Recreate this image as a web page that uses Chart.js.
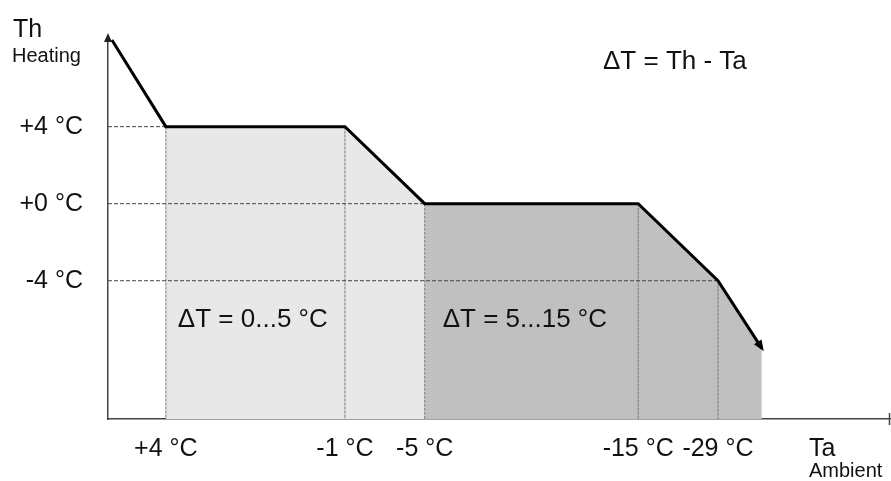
<!DOCTYPE html>
<html>
<head>
<meta charset="utf-8">
<script src="https://cdn.jsdelivr.net/npm/chart.js@4.4.1/dist/chart.umd.min.js"></script>
<style>
  html, body { margin: 0; padding: 0; background: #fff; }
  #wrap { width: 891px; height: 481px; }
</style>
</head>
<body>
<div id="wrap"><canvas id="chart"></canvas></div>
<script>
// schematic curve: x in arbitrary position units (0..100), y in °C offset
const curveX = [0.5, 7.4, 30.3, 40.5, 67.8, 78.0, 83.6];
const curveY = [8.5, 4, 4, 0, 0, -4, -7.5];

// knots that carry an x tick label
const xTickKnots = [1, 2, 3, 4, 5];
const xTickLabels = ['+4 °C', '-1 °C', '-5 °C', '-15 °C', '-29 °C'];

const yTickValues = [4, 0, -4];
const yTickLabels = ['+4 °C', '+0 °C', '-4 °C'];

// shaded zones, as ranges of knot indices
const lightZone = [1, 3];
const darkZone = [3, 6];

const X_MIN = 0, X_MAX = 100, Y_MIN = -11.18, Y_MAX = 8.5;
const FONT = '"Liberation Sans", Arial, sans-serif';

const pts = curveX.map((x, i) => ({ x: x, y: curveY[i] }));
const zone = (r) => pts.slice(r[0], r[1] + 1);

// dashed guides: vertical from each ticked knot down, horizontal from axis to first knot at that level
const vGuides = xTickKnots.map(i => [{ x: curveX[i], y: curveY[i] }, { x: curveX[i], y: Y_MIN }]);
const hGuides = yTickValues.map(v => {
  const i = curveY.findIndex(y => y === v);
  return [{ x: X_MIN, y: v }, { x: curveX[i], y: v }];
});

const datasets = [
  { data: pts, borderColor: '#000', borderWidth: 3, pointRadius: 0, clip: false, fill: false },
  ...hGuides.map(g => ({ data: g, borderColor: '#444', borderWidth: 1, borderDash: [4, 2], pointRadius: 0, fill: false })),
  ...vGuides.map(g => ({ data: g, borderColor: '#777', borderWidth: 1, borderDash: [3, 1], pointRadius: 0, fill: false })),
  { data: zone(lightZone), borderWidth: 0, pointRadius: 0, fill: 'start', backgroundColor: '#e8e8e8' },
  { data: zone(darkZone), borderWidth: 0, pointRadius: 0, fill: 'start', backgroundColor: '#c0c0c0' }
];

function arrow(ctx, x1, y1, x2, y2, len, half) {
  const a = Math.atan2(y2 - y1, x2 - x1);
  ctx.beginPath();
  ctx.moveTo(x2, y2);
  ctx.lineTo(x2 - len * Math.cos(a) + half * Math.sin(a), y2 - len * Math.sin(a) - half * Math.cos(a));
  ctx.lineTo(x2 - len * Math.cos(a) - half * Math.sin(a), y2 - len * Math.sin(a) + half * Math.cos(a));
  ctx.closePath();
  ctx.fill();
}

const decor = {
  id: 'decor',
  afterDraw(chart) {
    const ctx = chart.ctx, a = chart.chartArea;
    const sx = chart.scales.x;
    ctx.save();
    ctx.fillStyle = '#000';
    // arrow head at the end of the curve
    const p = chart.getDatasetMeta(0).data;
    const n = p.length;
    arrow(ctx, p[n - 2].x, p[n - 2].y, p[n - 1].x + 2, p[n - 1].y + 3, 11, 4.5);
    // y axis arrow and x axis end tick
    ctx.fillStyle = '#222';
    arrow(ctx, a.left, a.top + 20, a.left, a.top - 7, 9, 4);
    ctx.strokeStyle = '#444';
    ctx.lineWidth = 1.5;
    ctx.beginPath();
    ctx.moveTo(a.right - 0.5, a.bottom - 6);
    ctx.lineTo(a.right - 0.5, a.bottom + 6);
    ctx.stroke();

    ctx.fillStyle = '#111';
    ctx.textAlign = 'left';
    ctx.textBaseline = 'alphabetic';
    ctx.font = '25px ' + FONT;
    ctx.fillText('Th', 13, 37);
    ctx.fillText('Ta', 809, 456);
    ctx.font = '20px ' + FONT;
    ctx.fillText('Heating', 12, 62);
    ctx.fillText('Ambient', 809, 477);
    ctx.font = '26px ' + FONT;
    ctx.fillText('ΔT = Th - Ta', 603, 69);
    ctx.fillText('ΔT = 0...5 °C', sx.getPixelForValue(curveX[lightZone[0]]) + 12, 327);
    ctx.fillText('ΔT = 5...15 °C', sx.getPixelForValue(curveX[darkZone[0]]) + 18, 327);
    ctx.restore();
  }
};

new Chart(document.getElementById('chart'), {
  type: 'line',
  data: { datasets: datasets },
  options: {
    responsive: true,
    maintainAspectRatio: false,
    animation: false,
    layout: { padding: { top: 40, right: 1, left: 0, bottom: 0 } },
    plugins: { legend: { display: false }, tooltip: { enabled: false } },
    elements: { line: { tension: 0 } },
    scales: {
      x: {
        type: 'linear', min: X_MIN, max: X_MAX,
        grid: { display: false, drawTicks: false },
        border: { display: true, color: '#444', width: 1.5 },
        afterBuildTicks: (s) => { s.ticks = xTickKnots.map(i => ({ value: curveX[i] })); },
        afterFit: (s) => { s.height = 62; },
        ticks: {
          autoSkip: false, maxRotation: 0, padding: 15, color: '#111',
          font: { family: FONT, size: 25 },
          callback: (v, i) => xTickLabels[i]
        }
      },
      y: {
        type: 'linear', min: Y_MIN, max: Y_MAX,
        grid: { display: false, drawTicks: false },
        border: { display: true, color: '#444', width: 1.5 },
        afterBuildTicks: (s) => { s.ticks = yTickValues.map(v => ({ value: v })); },
        afterFit: (s) => { s.width = 108; },
        ticks: {
          autoSkip: false, padding: 25, color: '#111',
          font: { family: FONT, size: 25 },
          callback: (v, i) => yTickLabels[i]
        }
      }
    }
  },
  plugins: [decor]
});
</script>
</body>
</html>
